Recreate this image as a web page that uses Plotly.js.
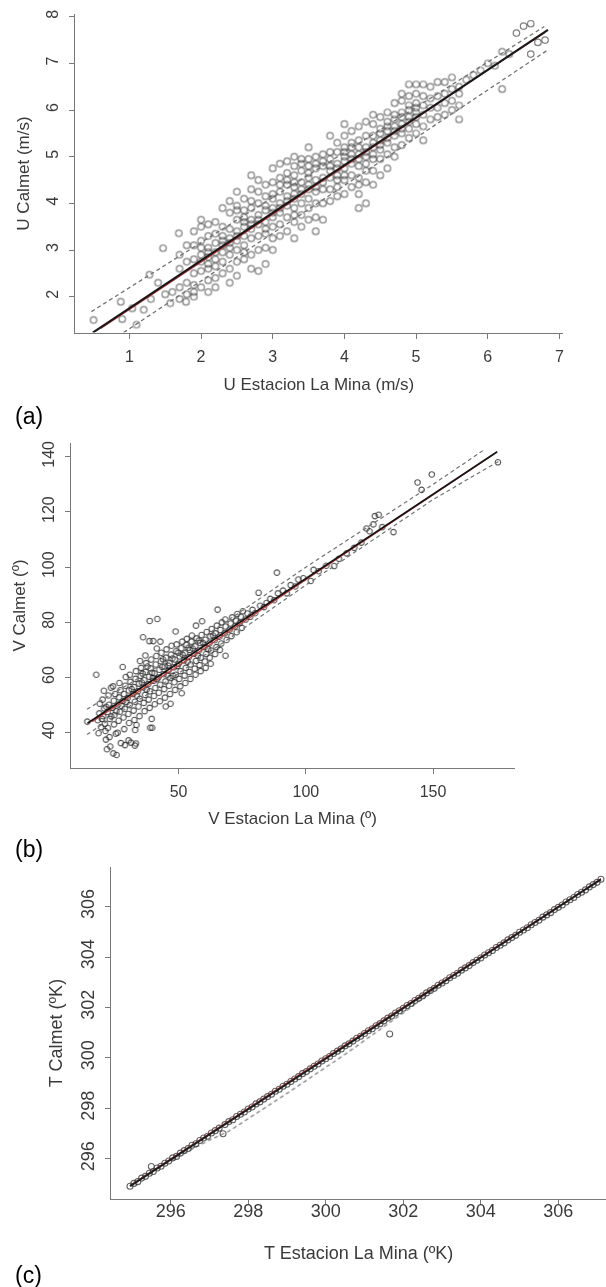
<!DOCTYPE html>
<html>
<head>
<meta charset="utf-8">
<script src="https://cdn.plot.ly/plotly-3.0.1.min.js"></script>
<style>
html,body{margin:0;padding:0;background:#fff;overflow:hidden;}
#chart{width:606px;height:1287px;}
#chart .cartesianlayer, #chart .g-xtitle, #chart .g-ytitle, #chart .g-x2title, #chart .g-y2title, #chart .g-x3title, #chart .g-y3title{filter:blur(0.45px);}
</style>
</head>
<body>
<div id="chart"></div>
<script>
// ---------- Panel (a): U ----------
const uPoints = [
[0.5,1.5],[0.88,1.89],[0.9,1.52],[1.04,1.75],[1.2,1.72],[1.28,2.47],[1.3,1.95],[1.1,1.4],[1.4,2.3],[1.47,3.04],[1.5,2.05],[1.57,1.86],[1.6,2.1],[1.69,3.36],[1.79,1.89],
[1.7,1.95],[1.7,2.2],[1.7,2.6],[1.7,2.9],
[1.8,2.05],[1.8,2.3],[1.8,2.75],[1.8,3.1],
[1.9,2.0],[1.9,2.1],[1.9,2.25],[1.9,2.5],[1.9,2.8],[1.9,3.1],[1.9,3.4],
[2.0,2.2],[2.0,2.55],[2.0,2.75],[2.0,2.9],[2.0,3.2],[2.0,3.5],[2.0,3.65],
[2.1,2.1],[2.1,2.35],[2.1,2.6],[2.1,2.7],[2.1,2.85],[2.1,3.05],[2.1,3.3],[2.1,3.55],
[2.2,2.2],[2.2,2.4],[2.2,2.65],[2.2,2.95],[2.2,3.15],[2.2,3.35],[2.2,3.6],
[2.3,2.5],[2.3,2.75],[2.3,2.95],[2.3,3.1],[2.3,3.3],[2.3,3.5],[2.3,3.9],
[2.4,2.3],[2.4,2.6],[2.4,2.9],[2.4,3.05],[2.4,3.25],[2.4,3.45],[2.4,3.8],[2.4,4.05],
[2.5,2.45],[2.5,2.75],[2.5,3.0],[2.5,3.2],[2.5,3.4],[2.5,3.65],[2.5,3.95],[2.5,4.25],
[2.6,2.8],[2.6,3.1],[2.6,3.3],[2.6,3.5],[2.6,3.7],[2.6,3.85],[2.6,4.1],
[2.7,2.6],[2.7,2.9],[2.7,3.25],[2.7,3.45],[2.7,3.65],[2.7,3.9],[2.7,4.3],[2.7,4.6],
[2.8,2.55],[2.8,3.0],[2.8,3.3],[2.8,3.55],[2.8,3.75],[2.8,4.0],[2.8,4.25],[2.8,4.5],
[2.9,2.7],[2.9,3.05],[2.9,3.35],[2.9,3.6],[2.9,3.85],[2.9,4.15],[2.9,4.4],
[3.0,3.0],[3.0,3.25],[3.0,3.5],[3.0,3.7],[3.0,3.9],[3.0,4.1],[3.0,4.45],[3.0,4.75],
[3.1,3.3],[3.1,3.55],[3.1,3.8],[3.1,4.0],[3.1,4.25],[3.1,4.55],[3.1,4.85],
[3.2,3.4],[3.2,3.7],[3.2,3.95],[3.2,4.15],[3.2,4.4],[3.2,4.65],[3.2,4.9],
[3.3,3.25],[3.3,3.6],[3.3,3.9],[3.3,4.1],[3.3,4.35],[3.3,4.6],[3.3,4.8],[3.3,5.0],
[3.4,3.5],[3.4,3.75],[3.4,4.0],[3.4,4.2],[3.4,4.45],[3.4,4.7],[3.4,4.95],
[3.5,3.65],[3.5,3.9],[3.5,4.1],[3.5,4.3],[3.5,4.55],[3.5,4.8],[3.5,5.2],
[3.6,3.4],[3.6,3.7],[3.6,4.0],[3.6,4.25],[3.6,4.5],[3.6,4.75],[3.6,5.0],
[3.7,3.65],[3.7,4.0],[3.7,4.3],[3.7,4.55],[3.7,4.8],[3.7,5.05],
[3.8,4.05],[3.8,4.3],[3.8,4.55],[3.8,4.8],[3.8,5.1],[3.8,5.45],
[3.9,4.15],[3.9,4.35],[3.9,4.6],[3.9,4.85],[3.9,5.1],[3.9,5.3],
[4.0,4.2],[4.0,4.5],[4.0,4.75],[4.0,5.0],[4.0,5.2],[4.0,5.45],[4.0,5.7],
[4.1,4.35],[4.1,4.6],[4.1,4.85],[4.1,5.05],[4.1,5.3],[4.1,5.55],
[4.2,3.9],[4.2,4.2],[4.2,4.55],[4.2,4.8],[4.2,5.05],[4.2,5.35],[4.2,5.65],
[4.3,4.0],[4.3,4.45],[4.3,4.7],[4.3,5.0],[4.3,5.2],[4.3,5.45],[4.3,5.75],
[4.4,4.4],[4.4,4.7],[4.4,4.95],[4.4,5.2],[4.4,5.45],[4.4,5.7],[4.4,5.9],
[4.5,4.6],[4.5,4.95],[4.5,5.15],[4.5,5.35],[4.5,5.6],[4.5,5.85],
[4.6,4.75],[4.6,5.05],[4.6,5.3],[4.6,5.55],[4.6,5.75],[4.6,5.95],
[4.7,5.0],[4.7,5.2],[4.7,5.45],[4.7,5.65],[4.7,5.9],[4.7,6.15],
[4.8,5.25],[4.8,5.5],[4.8,5.7],[4.8,5.95],[4.8,6.2],[4.8,6.35],
[4.9,5.4],[4.9,5.6],[4.9,5.85],[4.9,6.1],[4.9,6.3],[4.9,6.55],
[5.0,5.5],[5.0,5.7],[5.0,5.95],[5.0,6.15],[5.0,6.35],[5.0,6.55],
[5.1,5.35],[5.1,5.65],[5.1,5.9],[5.1,6.1],[5.1,6.3],[5.1,6.55],
[5.2,5.8],[5.2,6.05],[5.2,6.25],[5.2,6.5],
[5.3,5.85],[5.3,6.05],[5.3,6.3],[5.3,6.6],
[5.4,5.9],[5.4,6.15],[5.4,6.35],[5.4,6.6],
[5.5,6.0],[5.5,6.2],[5.5,6.45],[5.5,6.7],
[5.6,5.8],[5.6,6.1],[5.6,6.35],[5.6,6.5],
[5.7,6.65],[5.8,6.75],[5.9,6.85],[6.0,7.0],[6.1,6.95],[6.2,6.45],[6.2,7.25],[6.3,7.2],
[6.4,7.65],[6.5,7.8],[6.6,7.85],[6.6,7.2],[6.7,7.45],[6.8,7.5],
[2.0,3.05],[2.1,2.95],[2.2,2.8],[2.3,3.2],[2.4,3.15],[2.5,3.3],[2.6,3.6],[2.6,2.95],[2.7,3.55],[2.8,3.65],
[2.9,3.95],[2.9,3.45],[3.0,3.8],[3.0,4.2],[3.1,3.9],[3.1,4.4],[3.2,4.05],[3.2,4.5],[3.3,4.2],[3.3,4.45],
[3.4,4.3],[3.4,4.85],[3.5,4.4],[3.5,4.65],[3.6,4.35],[3.6,4.85],[3.7,4.45],[3.7,4.9],[3.8,4.7],[3.8,4.95],
[3.9,4.75],[3.9,4.5],[4.0,4.9],[4.0,5.1],[4.1,4.95],[4.1,5.2],[4.2,4.95],[4.2,5.2],[4.3,5.1],[4.3,4.85],
[4.4,5.05],[4.4,5.3],[4.5,5.25],[4.5,5.5],[4.6,5.4],[4.6,5.65],[4.7,5.55],[4.7,5.8],[4.8,5.6],[4.8,5.85],
[4.9,5.75],[4.9,6.0],[5.0,5.85],[5.0,6.05],[2.5,3.85],[2.7,4.05],[3.3,3.75],[3.5,4.95],[4.0,4.6],[4.2,4.4]
];
const uFitX = [0.49, 6.84];
const uFitY = [1.23, 7.72];
const uSmoothX = [0.6, 2.0, 4.0, 6.0, 6.8];
const uSmoothY = [1.32, 2.74, 4.79, 6.86, 7.66];
const uUpperX = [0.47, 6.79];
const uUpperY = [1.68, 7.79];
const uLowerX = [0.92, 6.84];
const uLowerY = [1.23, 7.29];
const uXTicks = [1, 2, 3, 4, 5, 6, 7];
const uYTicks = [2, 3, 4, 5, 6, 7, 8];

// ---------- Panel (b): V ----------
const vPoints = [
[17.6,61.0],[14.1,44.0],[21.8,34.0],[25.6,31.9],[33.2,36.1],[32.8,35.3],[39.6,41.8],
[18.2,44.5],[18.8,47.0],[19.5,42.0],[19.0,50.5],[18.5,39.8],
[20.3,46.0],[20.7,48.8],[21.0,43.2],[20.1,52.0],[21.4,37.5],[20.6,55.2],[21.2,40.6],
[22.1,47.5],[22.6,50.1],[22.9,45.0],[22.4,53.5],[23.1,35.0],[22.2,41.7],[23.4,56.3],[22.8,38.4],
[24.0,49.0],[24.5,51.6],[24.8,46.4],[24.3,32.5],[25.0,54.0],[24.6,43.0],[25.3,39.6],[24.2,56.8],
[26.2,50.2],[26.6,52.8],[26.9,47.6],[26.4,44.3],[27.1,55.4],[26.0,40.0],[27.3,36.2],[26.7,58.0],
[28.1,51.5],[28.5,54.0],[28.8,48.7],[28.3,45.5],[29.0,57.0],[28.6,41.3],[29.2,60.2],[28.0,63.8],[28.9,35.5],
[30.0,52.6],[30.4,55.3],[30.7,50.0],[30.2,46.8],[31.0,58.4],[30.5,43.5],[31.2,36.4],[30.8,61.0],[30.3,37.2],
[32.1,54.0],[32.5,56.5],[32.8,51.2],[32.3,48.0],[33.0,59.5],[32.6,44.6],[33.2,62.3],[32.9,41.0],[33.4,42.8],
[34.0,55.0],[34.4,57.8],[34.7,52.3],[34.2,49.5],[35.0,60.6],[34.6,46.0],[35.2,63.5],[34.8,66.0],
[36.1,56.4],[36.5,59.0],[36.8,53.7],[36.3,50.8],[37.0,62.0],[36.6,47.8],[37.2,65.2],[36.0,74.6],[36.9,68.0],
[38.0,57.6],[38.4,60.3],[38.7,55.0],[38.2,52.0],[39.0,63.3],[38.6,49.0],[39.2,66.5],[38.8,41.8],[38.5,73.2],[38.6,80.5],[39.4,45.0],
[40.1,58.8],[40.5,61.5],[40.8,56.2],[40.3,53.3],[41.0,64.7],[40.6,50.3],[41.2,67.8],[40.0,73.2],[41.6,81.2],[41.4,70.5],
[42.0,60.0],[42.4,62.8],[42.7,57.4],[42.2,54.5],[43.0,65.9],[42.6,51.4],[43.2,69.0],[42.8,73.0],
[44.1,61.2],[44.5,64.0],[44.8,58.6],[44.3,55.8],[45.0,67.2],[44.6,52.7],[45.2,70.2],[44.9,49.5],
[46.0,62.5],[46.4,65.2],[46.7,59.8],[46.2,57.0],[47.0,68.3],[46.6,54.0],[47.2,71.5],[46.8,50.5],
[48.1,63.7],[48.5,66.5],[48.8,61.0],[48.3,58.3],[49.0,69.5],[48.8,76.7],[48.6,55.5],[49.2,72.0],
[50.0,65.0],[50.4,67.6],[50.7,62.3],[50.2,59.5],[51.0,70.6],[50.6,56.8],[51.2,54.3],[51.4,73.0],
[52.1,66.2],[52.5,68.8],[52.8,63.5],[52.3,60.7],[53.0,71.8],[52.6,58.0],[53.2,74.0],
[54.0,67.4],[54.4,70.0],[54.7,64.7],[54.2,62.0],[55.0,73.0],[54.6,59.5],[55.2,75.2],
[56.1,68.6],[56.5,71.3],[56.8,66.0],[56.3,63.2],[57.0,74.2],[56.8,78.8],[56.6,61.0],
[58.0,69.8],[58.4,72.5],[58.7,67.2],[58.2,64.5],[59.0,75.4],[59.2,80.4],[58.6,62.3],
[60.1,71.0],[60.5,73.7],[60.8,68.5],[60.3,65.8],[61.0,76.5],[60.6,63.5],
[62.0,72.3],[62.4,74.9],[62.7,69.8],[62.2,67.2],[63.0,77.6],[62.6,65.0],
[64.1,73.5],[64.5,76.0],[64.8,71.0],[64.3,68.5],[65.0,78.8],[65.3,84.6],
[66.0,74.8],[66.4,77.2],[66.7,72.3],[66.2,70.0],[67.0,80.0],
[68.1,76.0],[68.4,78.5],[68.4,67.9],[68.8,73.6],[68.3,81.0],
[70.0,77.3],[70.4,79.6],[70.7,75.0],[71.0,81.8],
[72.1,78.5],[72.5,80.6],[72.8,76.4],[73.0,83.0],
[74.0,79.7],[74.4,82.0],[74.8,78.0],[75.2,84.0],
[76.3,81.0],[77.0,83.2],[78.1,82.0],[79.0,84.5],[80.0,83.3],[81.4,90.7],[82.0,86.0],[83.5,85.5],[84.5,87.0],
[86.0,88.5],[87.5,88.0],[88.6,98.0],[89.0,90.5],[91.0,91.5],[92.5,90.5],[94.0,93.5],[95.8,93.0],[97.0,95.5],
[99.0,96.0],[101.9,95.0],[103.0,99.0],[105.0,98.5],[108.0,100.5],[111.1,100.4],[113.0,103.0],[116.0,105.0],
[119.0,107.0],[121.8,108.9],[123.8,114.0],[125.0,113.0],[127.1,118.5],[128.6,119.0],[126.5,115.5],[130.0,114.5],
[134.4,112.7],[143.9,130.7],[145.5,128.0],[149.5,133.6],[175.5,138.0],
[31.5,55.8],[33.6,53.4],[35.5,58.2],[37.4,55.6],[39.5,61.7],[41.5,59.4],[43.5,63.8],[45.5,61.0],[47.5,66.9],[49.5,64.2],
[51.5,68.3],[53.5,65.7],[55.5,70.5],[57.5,68.0],[59.5,72.6],[61.5,70.3],[63.5,75.2],[35.8,61.4],[37.7,64.0],[39.8,59.8],
[43.8,66.6],[45.9,64.3],[47.8,60.6],[49.8,69.0],[53.8,70.8],[57.9,73.4],[27.5,49.7],[29.5,51.1],[25.5,47.8],[23.5,45.9],
[21.5,49.4],[19.8,45.0]
];
const vFitX = [14.2, 175.2];
const vFitY = [43.4, 141.8];
const vSmoothX = [16, 50, 100, 174];
const vSmoothY = [44.0, 64.3, 95.4, 141.0];
const vUpperX = [14, 50, 100, 150, 170];
const vUpperY = [48.5, 68.5, 100.0, 130.0, 142.5];
const vLowerX = [14, 50, 100, 150, 176];
const vLowerY = [39.3, 61.5, 93.5, 124.5, 138.5];
const vXTicks = [50, 100, 150];
const vYTicks = [40, 60, 80, 100, 120, 140];

// ---------- Panel (c): T ----------
const tPoints = [
[294.95,294.92],[295.05,295.03],[295.15,295.1],[295.25,295.24],[295.35,295.31],[295.5,295.7],[295.45,295.43],[295.55,295.5],
[295.65,295.64],[295.75,295.71],[295.85,295.83],[295.95,295.92],[296.05,296.04],[296.15,296.1],[296.25,296.23],[296.35,296.33],
[296.45,296.41],[296.55,296.54],[296.65,296.6],[296.75,296.73],[296.85,296.83],[296.95,296.9],[297.05,297.03],[297.15,297.12],
[297.25,297.22],[297.35,297.0],[297.4,297.36],[297.5,297.48],[297.6,297.55],[297.7,297.68],[297.8,297.77],[297.9,297.86],
[298.0,297.98],[298.1,298.06],[298.2,298.18],[298.3,298.26],[298.4,298.37],[298.5,298.47],[298.6,298.56],[298.7,298.68],
[298.8,298.76],[298.9,298.88],[299.0,298.96],[299.1,299.07],[299.2,299.17],[299.3,299.26],[299.4,299.38],[299.5,299.46],
[299.6,299.57],[299.7,299.67],[299.8,299.76],[299.9,299.88],[300.0,299.97],[300.1,300.06],[300.2,300.18],[300.3,300.27],
[300.4,300.36],[300.5,300.48],[300.6,300.56],[300.7,300.67],[300.8,300.78],[300.9,300.86],[301.0,300.97],[301.1,301.08],
[301.2,301.16],[301.3,301.28],[301.4,301.36],[301.5,301.47],[301.65,300.95],[301.6,301.58],[301.7,301.66],[301.8,301.78],
[301.9,301.87],[302.0,301.97],[302.1,302.08],[302.2,302.16],[302.3,302.28],[302.4,302.37],[302.5,302.46],[302.6,302.58],
[302.7,302.67],[302.8,302.76],[302.9,302.88],[303.0,302.97],[303.1,303.06],[303.2,303.18],[303.3,303.27],[303.4,303.36],
[303.5,303.48],[303.6,303.57],[303.7,303.66],[303.8,303.78],[303.9,303.87],[304.0,303.96],[304.1,304.08],[304.2,304.17],
[304.3,304.26],[304.4,304.38],[304.5,304.47],[304.6,304.56],[304.7,304.68],[304.8,304.77],[304.9,304.86],[305.0,304.98],
[305.1,305.07],[305.2,305.16],[305.3,305.28],[305.4,305.37],[305.5,305.46],[305.6,305.58],[305.7,305.67],[305.8,305.76],
[305.9,305.88],[306.0,305.97],[306.1,306.06],[306.2,306.18],[306.3,306.27],[306.4,306.36],[306.5,306.48],[306.6,306.57],
[306.7,306.66],[306.8,306.78],[306.9,306.87],[307.0,306.96],[307.1,307.08]
];
const tFitX = [294.95, 307.1];
const tFitY = [294.92, 307.08];
const tSmoothX = [294.95, 301.0, 307.1];
const tSmoothY = [294.95, 301.02, 307.1];
const tLowerX = [296.0, 297.0, 297.5, 299.0, 300.5, 301.6, 302.1, 303.0];
const tLowerY = [295.95, 296.75, 297.1, 298.6, 300.15, 301.35, 301.9, 302.95];
const tXTicks = [296, 298, 300, 302, 304, 306];
const tYTicks = [296, 298, 300, 302, 304, 306];

const panelLabels = ['(a)', '(b)', '(c)'];
const xTitles = ['U Estacion La Mina (m/s)', 'V Estacion La Mina (º)', 'T Estacion La Mina (ºK)'];
const yTitles = ['U Calmet (m/s)', 'V Calmet (º)', 'T Calmet (ºK)'];

// ---------- build ----------
const FONT = 'Liberation Sans, Arial, Helvetica, sans-serif';
function pts(arr, xa, ya, color, size, lw) {
  return {x: arr.map(p => p[0]), y: arr.map(p => p[1]), xaxis: xa, yaxis: ya, type: 'scatter', mode: 'markers',
    marker: {symbol: 'circle-open', size: size, color: color, line: {width: lw, color: color}}, hoverinfo: 'skip'};
}
function line(xs, ys, xa, ya, color, width, dash) {
  return {x: xs, y: ys, xaxis: xa, yaxis: ya, type: 'scatter', mode: 'lines',
    line: {color: color, width: width, dash: dash || 'solid'}, hoverinfo: 'skip'};
}
const DASHC = 'rgb(115,115,115)';
const RED = 'rgb(205,60,55)';
const data = [
  pts(uPoints, 'x', 'y', 'rgba(45,45,45,0.6)', 6.5, 1.2),
  line(uUpperX, uUpperY, 'x', 'y', DASHC, 1.3, '4px,3px'),
  line(uLowerX, uLowerY, 'x', 'y', DASHC, 1.3, '4px,3px'),
  line(uSmoothX, uSmoothY, 'x', 'y', RED, 1.2),
  line(uFitX, uFitY, 'x', 'y', 'rgb(25,25,25)', 2.2),

  pts(vPoints, 'x2', 'y2', 'rgba(30,30,30,0.75)', 5.5, 1.1),
  line(vUpperX, vUpperY, 'x2', 'y2', DASHC, 1.2, '4px,3px'),
  line(vLowerX, vLowerY, 'x2', 'y2', DASHC, 1.2, '4px,3px'),
  line(vSmoothX, vSmoothY, 'x2', 'y2', RED, 1.2),
  line(vFitX, vFitY, 'x2', 'y2', 'rgb(20,20,20)', 1.7),

  line(tLowerX, tLowerY, 'x3', 'y3', DASHC, 1.2, '4px,3px'),
  pts(tPoints, 'x3', 'y3', 'rgba(50,50,50,0.75)', 6, 1.1),
  line(tSmoothX, tSmoothY, 'x3', 'y3', RED, 1.2),
  line(tFitX, tFitY, 'x3', 'y3', 'rgb(30,30,30)', 2)
];

const AX = 'rgb(120,120,120)';
function xax(domain, range, ticks, title, fs, tfs, anchor, lso, tso) {
  return {domain: domain, range: range, tickvals: ticks, anchor: anchor, showgrid: false, zeroline: false,
    showline: true, linecolor: AX, linewidth: 1, ticks: 'outside', ticklen: 5, tickcolor: AX, tickwidth: 1,
    tickfont: {family: FONT, size: fs, color: '#3a3a3a'}, ticklabelstandoff: lso,
    title: {text: title, font: {family: FONT, size: tfs, color: '#3a3a3a'}, standoff: tso}, fixedrange: true};
}
function yax(domain, range, ticks, title, fs, tfs, anchor, lso, tso) {
  const a = xax(domain, range, ticks, title, fs, tfs, anchor, lso, tso);
  a.tickangle = -90;
  return a;
}
const H = 1287, W = 606;
const layout = {
  width: W, height: H, margin: {l: 0, r: 0, t: 0, b: 0}, paper_bgcolor: '#fff', plot_bgcolor: '#fff',
  showlegend: false,
  xaxis: xax([74.6 / W, 563 / W], [0.236, 7.05], uXTicks, xTitles[0], 16, 17, 'y', 4, 14),
  yaxis: yax([1 - 332.6 / H, 1 - 14.4 / H], [1.23, 8.05], uYTicks, yTitles[0], 16, 17, 'x', 4, 10),
  xaxis2: xax([70.7 / W, 514.5 / W], [7.6, 182], vXTicks, xTitles[1], 16, 17, 'y2', 4, 12),
  yaxis2: yax([1 - 768 / H, 1 - 443 / H], [27.2, 145], vYTicks, yTitles[1], 16, 17, 'x2', 4, 10),
  xaxis3: xax([111.4 / W, 1], [294.47, 307.23], tXTicks, xTitles[2], 18, 18, 'y3', -10, 26),
  yaxis3: yax([1 - 1199.3 / H, 1 - 866.7 / H], [294.4, 307.58], tYTicks, yTitles[2], 18, 18, 'x3', 4, 10),
  annotations: [
    {text: panelLabels[0], xref: 'paper', yref: 'paper', x: 13 / W, y: 1 - 416 / H, xanchor: 'left', yanchor: 'middle', showarrow: false, font: {family: FONT, size: 23, color: '#000'}},
    {text: panelLabels[1], xref: 'paper', yref: 'paper', x: 13 / W, y: 1 - 849 / H, xanchor: 'left', yanchor: 'middle', showarrow: false, font: {family: FONT, size: 23, color: '#000'}},
    {text: panelLabels[2], xref: 'paper', yref: 'paper', x: 13 / W, y: 1 - 1275 / H, xanchor: 'left', yanchor: 'middle', showarrow: false, font: {family: FONT, size: 23, color: '#000'}}
  ]
};
Plotly.newPlot('chart', data, layout, {staticPlot: true, displayModeBar: false});
</script>
</body>
</html>
